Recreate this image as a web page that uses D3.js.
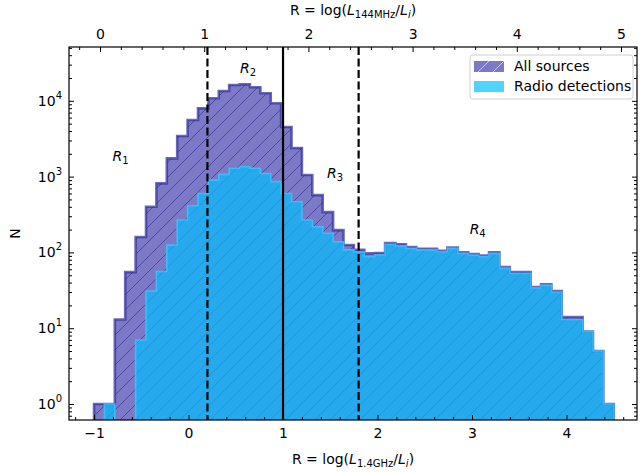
<!DOCTYPE html>
<html>
<head>
<meta charset="utf-8">
<script src="https://cdn.jsdelivr.net/npm/d3@7"></script>
<style>
  body { margin: 0; background: #fff; }
  svg { display: block; }
  text { font-family: "DejaVu Sans", sans-serif; fill: #000; }
</style>
</head>
<body>
<svg id="chart" width="640" height="472"></svg>
<script>
// Histogram bin edges in R = log(L_1.4GHz / L_i)
const binEdges = [
  -1.00, -0.89, -0.78, -0.67, -0.56, -0.45, -0.34, -0.23, -0.12, -0.01,
   0.10,  0.21,  0.32,  0.43,  0.54,  0.65,  0.76,  0.87,  0.98,  1.09,
   1.20,  1.31,  1.42,  1.53,  1.64,  1.75,  1.86,  1.97,  2.08,  2.19,
   2.30,  2.41,  2.52,  2.63,  2.74,  2.85,  2.96,  3.07,  3.18,  3.29,
   3.40,  3.51,  3.62,  3.73,  3.84,  3.95,  4.06,  4.17,  4.28,  4.39,
   4.50
];

// Counts per bin: every source
const allSources = [
  1, 1, 13, 55, 160, 400, 815, 1740, 3430, 5580,
  7960, 10800, 13460, 16150, 16500, 15100, 12600, 9300, 4520, 2390,
  1050, 570, 340, 197, 125, 108, 97, 98, 133, 128,
  118, 112, 112, 105, 116, 100, 95, 91, 100, 64,
  55, 55, 35, 38, 31, 14, 14, 9, 5, 1
];

// Counts per bin: sources with a radio detection
const radioDetections = [
  0, 1, 0, 0, 7, 31, 56, 125, 268, 413,
  600, 900, 1070, 1290, 1350, 1290, 1100, 860, 600, 466,
  268, 218, 179, 138, 108, 102, 88, 93, 128, 122,
  113, 108, 108, 102, 113, 97, 92, 88, 97, 62,
  53, 53, 34, 37, 30, 13, 13, 9, 5, 1
];

const bottomTicks = [-1, 0, 1, 2, 3, 4];
const topTicks = [0, 1, 2, 3, 4, 5];
const yDecades = [0, 1, 2, 3, 4];

// Region boundaries (R values) and region labels
const boundaries = [
  { r: 0.2, dashed: true },
  { r: 1.0, dashed: false },
  { r: 1.8, dashed: true }
];
const regionLabels = [
  { sub: "1", r: -0.72, n: 1870 },
  { sub: "2", r: 0.63, n: 27000 },
  { sub: "3", r: 1.55, n: 1120 },
  { sub: "4", r: 3.06, n: 204 }
];

const legendItems = [
  { label: "All sources", key: "all" },
  { label: "Radio detections", key: "radio" }
];

// ---- layout ----
const svg = d3.select("#chart");
const plot = { left: 69, right: 637, top: 47, bottom: 420 };

const x = d3.scaleLinear().domain([-1.265, 4.746]).range([plot.left, plot.right]);
const xTop = d3.scaleLinear().domain([-0.2975, 5.1536]).range([plot.left, plot.right]);
const y = d3.scaleLog().domain([0.615, 51300]).range([plot.bottom, plot.top]);

const purpleFill = "#7c79c6";
const purpleEdge = "#33319a";
const blueFill = "#00bfff";
const blueAlpha = 0.69;
const blueEdge = "#3cc6ff";

// ---- patterns and clip ----
const defs = svg.append("defs");
function hatch(id, color, width, opacity) {
  const p = defs.append("pattern")
    .attr("id", id).attr("patternUnits", "userSpaceOnUse")
    .attr("width", 15).attr("height", 15);
  p.append("path")
    .attr("d", "M-4,4 L4,-4 M0,15 L15,0 M11,19 L19,11")
    .attr("stroke", color).attr("stroke-width", width)
    .attr("stroke-opacity", opacity).attr("fill", "none");
}
hatch("hatchAll", "#3a3896", 1, 0.75);
hatch("hatchLegend", "#c4c2ee", 1, 1);

defs.append("clipPath").attr("id", "plotClip")
  .append("rect")
  .attr("x", plot.left).attr("y", plot.top)
  .attr("width", plot.right - plot.left).attr("height", plot.bottom - plot.top);

// ---- histogram outlines ----
function stepPoints(counts) {
  const floor = plot.bottom + 20;
  const pts = [[x(binEdges[0]), floor]];
  counts.forEach((c, i) => {
    const yy = c > 0 ? y(c) : floor;
    pts.push([x(binEdges[i]), yy], [x(binEdges[i + 1]), yy]);
  });
  pts.push([x(binEdges[binEdges.length - 1]), floor]);
  return pts;
}
const line = d3.line();

const g = svg.append("g").attr("clip-path", "url(#plotClip)");

const allPath = line(stepPoints(allSources)) + "Z";
g.append("path").attr("d", allPath).attr("fill", purpleFill);
g.append("path").attr("d", allPath).attr("fill", "url(#hatchAll)");
g.append("path").attr("d", allPath).attr("fill", "none")
  .attr("stroke", purpleEdge).attr("stroke-width", 2.6)
  .attr("stroke-opacity", 0.72).attr("stroke-linejoin", "miter");

const radioPath = line(stepPoints(radioDetections)) + "Z";
g.append("path").attr("d", radioPath).attr("fill", blueFill).attr("fill-opacity", blueAlpha);
g.append("path").attr("d", radioPath).attr("fill", "none")
  .attr("stroke", blueEdge).attr("stroke-width", 1.6).attr("stroke-opacity", 0.8);

// ---- region boundaries ----
g.selectAll("line.boundary").data(boundaries).join("line")
  .attr("class", "boundary")
  .attr("x1", d => x(d.r)).attr("x2", d => x(d.r))
  .attr("y1", plot.top).attr("y2", plot.bottom)
  .attr("stroke", "#000").attr("stroke-width", 2.2)
  .attr("stroke-dasharray", d => d.dashed ? "8,3.5" : null);

// ---- region labels ----
regionLabels.forEach(d => {
  const t = svg.append("text")
    .attr("x", x(d.r)).attr("y", y(d.n) + 5)
    .attr("text-anchor", "middle").attr("font-size", 14);
  t.append("tspan").attr("font-style", "italic").text("R");
  t.append("tspan").attr("font-size", 10).attr("dy", 3).text(d.sub);
});

// ---- axes ----
function styleAxis(sel) {
  sel.select(".domain").remove();
  sel.selectAll("line").attr("stroke", "#000").attr("stroke-width", 1);
  sel.selectAll("text").attr("font-size", 14).attr("font-family", "DejaVu Sans, sans-serif");
}

const bottomMinor = d3.range(-12, 48, 2).map(v => v / 10).filter(v => !Number.isInteger(v));
const topMinor = d3.range(-2, 52, 2).map(v => v / 10).filter(v => !Number.isInteger(v));
const intFormat = d => d < 0 ? "\u2212" + Math.abs(d) : String(d);

svg.append("g").attr("transform", `translate(0,${plot.bottom})`)
  .call(d3.axisBottom(x).tickValues(bottomTicks).tickSizeInner(-5).tickSizeOuter(0)
    .tickPadding(8).tickFormat(intFormat))
  .call(styleAxis);
svg.append("g").attr("transform", `translate(0,${plot.bottom})`)
  .call(d3.axisBottom(x).tickValues(bottomMinor).tickSizeInner(-3).tickSizeOuter(0).tickFormat(""))
  .call(styleAxis);

svg.append("g").attr("transform", `translate(0,${plot.top})`)
  .call(d3.axisTop(xTop).tickValues(topTicks).tickSizeInner(-5).tickSizeOuter(0)
    .tickPadding(8).tickFormat(intFormat))
  .call(styleAxis);
svg.append("g").attr("transform", `translate(0,${plot.top})`)
  .call(d3.axisTop(xTop).tickValues(topMinor).tickSizeInner(-3).tickSizeOuter(0).tickFormat(""))
  .call(styleAxis);

const yMajor = yDecades.map(e => Math.pow(10, e));
const yMinor = [];
[-1, 0, 1, 2, 3, 4].forEach(e => {
  for (let m = 2; m <= 9; m++) {
    const v = m * Math.pow(10, e);
    if (v >= y.domain()[0] && v <= y.domain()[1]) yMinor.push(v);
  }
});

svg.append("g").attr("transform", `translate(${plot.left},0)`)
  .call(d3.axisLeft(y).tickValues(yMajor).tickSizeInner(-5).tickSizeOuter(0).tickFormat(""))
  .call(styleAxis);
svg.append("g").attr("transform", `translate(${plot.left},0)`)
  .call(d3.axisLeft(y).tickValues(yMinor).tickSizeInner(-3).tickSizeOuter(0).tickFormat(""))
  .call(styleAxis);
svg.append("g").attr("transform", `translate(${plot.right},0)`)
  .call(d3.axisRight(y).tickValues(yMajor).tickSizeInner(-5).tickSizeOuter(0).tickFormat(""))
  .call(styleAxis);
svg.append("g").attr("transform", `translate(${plot.right},0)`)
  .call(d3.axisRight(y).tickValues(yMinor).tickSizeInner(-3).tickSizeOuter(0).tickFormat(""))
  .call(styleAxis);

// power-of-ten labels on the left
yDecades.forEach(e => {
  const t = svg.append("text")
    .attr("x", plot.left - 7).attr("y", y(Math.pow(10, e)) + 5)
    .attr("text-anchor", "end").attr("font-size", 14);
  t.append("tspan").text("10");
  t.append("tspan").attr("font-size", 10).attr("dy", -7).text(e);
});

// frame
svg.append("rect")
  .attr("x", plot.left).attr("y", plot.top)
  .attr("width", plot.right - plot.left).attr("height", plot.bottom - plot.top)
  .attr("fill", "none").attr("stroke", "#000").attr("stroke-width", 1.2);

// ---- axis titles ----
function ratioLabel(sel, sub) {
  sel.append("tspan").text("R = log(");
  sel.append("tspan").attr("font-style", "italic").text("L");
  sel.append("tspan").attr("font-size", 10).attr("dy", 3).text(sub);
  sel.append("tspan").attr("dy", -3).text("/");
  sel.append("tspan").attr("font-style", "italic").text("L");
  sel.append("tspan").attr("font-size", 10).attr("font-style", "italic").attr("dy", 3).text("i");
  sel.append("tspan").attr("dy", -3).text(")");
}
const midX = (plot.left + plot.right) / 2;
svg.append("text").attr("x", midX).attr("y", 464).attr("text-anchor", "middle")
  .attr("font-size", 14).call(ratioLabel, "1.4GHz");
svg.append("text").attr("x", midX).attr("y", 15).attr("text-anchor", "middle")
  .attr("font-size", 14).call(ratioLabel, "144MHz");
svg.append("text")
  .attr("transform", `translate(20,${(plot.top + plot.bottom) / 2}) rotate(-90)`)
  .attr("text-anchor", "middle").attr("font-size", 14).text("N");

// ---- legend ----
const lg = svg.append("g").attr("transform", "translate(470,55)");
lg.append("rect").attr("width", 163).attr("height", 44).attr("rx", 3)
  .attr("fill", "#fff").attr("fill-opacity", 0.8)
  .attr("stroke", "#d0d0d0").attr("stroke-width", 1);
legendItems.forEach((d, i) => {
  const row = lg.append("g").attr("transform", `translate(4,${6 + i * 20})`);
  if (d.key === "all") {
    row.append("rect").attr("width", 30).attr("height", 11).attr("fill", purpleFill);
    row.append("rect").attr("width", 30).attr("height", 11).attr("fill", "url(#hatchLegend)");
  } else {
    row.append("rect").attr("width", 30).attr("height", 11)
      .attr("fill", blueFill).attr("fill-opacity", blueAlpha);
  }
  row.append("text").attr("x", 40).attr("y", 10).attr("font-size", 14).text(d.label);
});
</script>
</body>
</html>
